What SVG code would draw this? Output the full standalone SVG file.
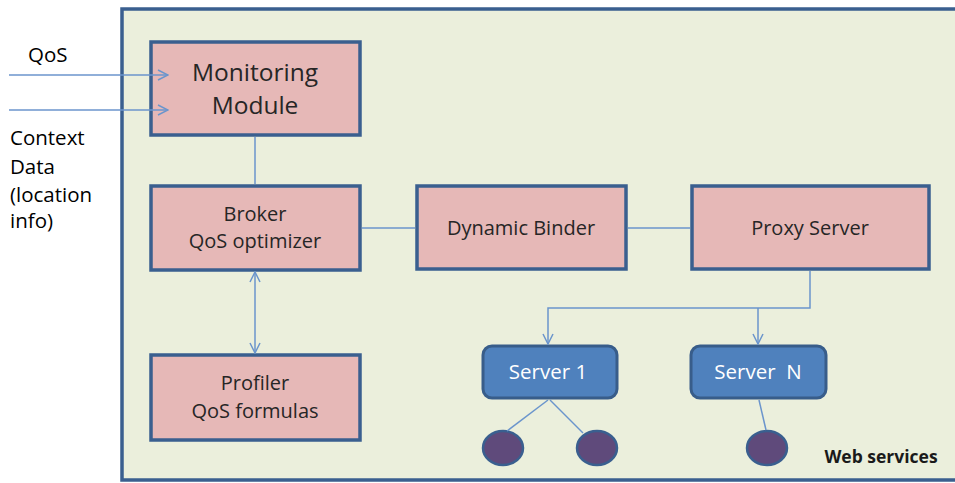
<svg xmlns="http://www.w3.org/2000/svg" width="955" height="483" viewBox="0 0 955 483">
<defs>
<marker id="arr" viewBox="0 0 12 12" refX="11" refY="6" markerWidth="12" markerHeight="12" markerUnits="userSpaceOnUse" orient="auto-start-reverse">
<path d="M1,1 L11,6 L1,11" fill="none" stroke="#6B95CC" stroke-width="1.5"/>
</marker>
</defs>
<style>
.box{fill:#E6B8B7;stroke:#3A5F8F;stroke-width:3.5}
.srv{fill:#4F81BD;stroke:#385D8A;stroke-width:3}
.leaf{fill:#5F4A7B;stroke:#3A5F8F;stroke-width:2.5}
.t{font-family:"Open Sans","Liberation Sans",Arial,sans-serif;fill:#262626;text-anchor:middle;font-size:20px}
.big{font-size:24.5px}
.w{font-family:"Open Sans","Liberation Sans",Arial,sans-serif;fill:#FFFFFF;text-anchor:middle;font-size:20.5px}
.c{fill:none;stroke:#6B95CC;stroke-width:1.5}
.l{font-family:"Open Sans","Liberation Sans",Arial,sans-serif;fill:#000;font-size:20.5px}
</style>
<rect x="0" y="0" width="955" height="483" fill="#FFFFFF"/>
<rect id="web-services" x="122" y="9" width="850" height="471" fill="#EBEFDC" stroke="#3A5F8F" stroke-width="3.5"/>
<text class="l" x="28" y="62">QoS</text>
<text class="l" x="10" y="145">Context</text>
<text class="l" x="10" y="174">Data</text>
<text class="l" x="10" y="202">(location</text>
<text class="l" x="10" y="228">info)</text>
<text x="881" y="463" font-family="Open Sans,Liberation Sans,Arial,sans-serif" font-weight="bold" font-size="17.5" text-anchor="middle" fill="#1a1a1a">Web services</text>
<g id="monitoring">
<rect class="box" x="151" y="42" width="209" height="93"/>
<text class="t big" x="255" y="81">Monitoring</text>
<text class="t big" x="255" y="114">Module</text>
</g>
<g id="broker">
<rect class="box" x="151" y="186" width="209" height="84"/>
<text class="t" x="255" y="221">Broker</text>
<text class="t" x="255" y="248">QoS optimizer</text>
</g>
<g id="profiler">
<rect class="box" x="151" y="355" width="209" height="85"/>
<text class="t" x="255" y="390">Profiler</text>
<text class="t" x="255" y="418">QoS formulas</text>
</g>
<g id="binder">
<rect class="box" x="417" y="186" width="209" height="83"/>
<text class="t" x="521" y="235">Dynamic Binder</text>
</g>
<g id="proxy">
<rect class="box" x="692" y="186" width="237" height="83"/>
<text class="t" x="810" y="235">Proxy Server</text>
</g>
<g id="server1">
<rect class="srv" x="483" y="346" width="134" height="52" rx="9"/>
<text class="w" x="548" y="379">Server 1</text>
</g>
<g id="serverN">
<rect class="srv" x="691" y="346" width="135" height="52" rx="9"/>
<text class="w" x="758" y="379" xml:space="preserve">Server  N</text>
</g>
<g id="leaf1"><ellipse class="leaf" cx="503" cy="448" rx="20" ry="17"/></g>
<g id="leaf2"><ellipse class="leaf" cx="597" cy="448" rx="20" ry="17"/></g>
<g id="leaf3"><ellipse class="leaf" cx="767" cy="448" rx="20" ry="17"/></g>
<g id="connectors">
<line class="c" x1="9" y1="75" x2="168" y2="75" marker-end="url(#arr)"/>
<line class="c" x1="9" y1="110" x2="168" y2="110" marker-end="url(#arr)"/>
<line class="c" x1="255" y1="137" x2="255" y2="184"/>
<line class="c" x1="362" y1="228" x2="415" y2="228"/>
<line class="c" x1="628" y1="228" x2="690" y2="228"/>
<line class="c" x1="255" y1="272" x2="255" y2="353" marker-start="url(#arr)" marker-end="url(#arr)"/>
<polyline class="c" points="810,271 810,308 548,308 548,344" marker-end="url(#arr)"/>
<line class="c" x1="758" y1="308" x2="758" y2="344" marker-end="url(#arr)"/>
<line class="c" x1="548" y1="400" x2="507" y2="431"/>
<line class="c" x1="550" y1="400" x2="583" y2="433"/>
<line class="c" x1="759" y1="400" x2="766" y2="430"/>
</g>
</svg>
